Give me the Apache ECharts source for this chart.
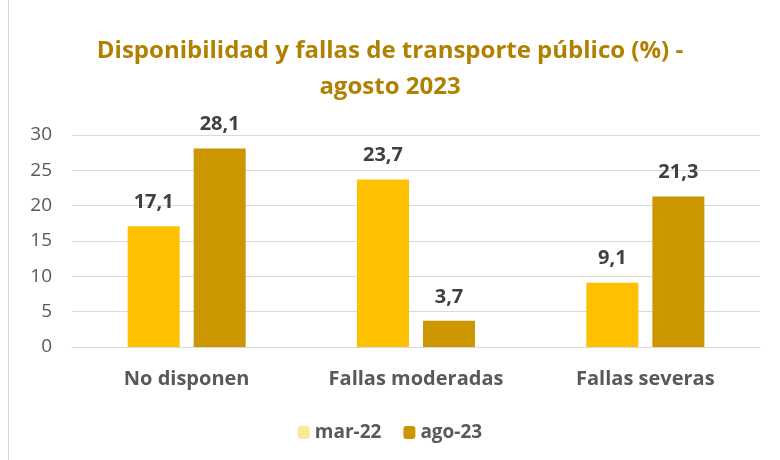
<!DOCTYPE html>
<html>
<head>
<meta charset="utf-8">
<script src="https://cdn.jsdelivr.net/npm/echarts@6/dist/echarts.min.js"></script>
<style>
  html, body { margin: 0; padding: 0; background: #fff; }
  #chart { width: 780px; height: 460px; }
</style>
</head>
<body>
<div id="chart"></div>
<script>
const categories = ['No disponen', 'Fallas moderadas', 'Fallas severas'];
const mar22 = [17.1, 23.7, 9.1];
const ago23 = [28.1, 3.7, 21.3];
const yTicks = [0, 5, 10, 15, 20, 25, 30];

const FONT = '"Open Sans", "Noto Sans", sans-serif';

const chart = echarts.init(document.getElementById('chart'));

const labelStyle = {
    show: true,
    position: 'top',
    distance: 14,
    fontFamily: FONT,
    fontWeight: 'bold',
    fontSize: 20,
    color: '#404040',
    formatter: p => String(p.value).replace('.', ',')
};

chart.setOption({
    animation: false,
    title: {
        text: 'Disponibilidad y fallas de transporte público (%) -\nagosto 2023',
        left: 'center',
        top: 28,
        textStyle: {
            fontFamily: FONT,
            fontWeight: 'bold',
            fontSize: 24,
            color: '#B08000',
            lineHeight: 36
        }
    },
    legend: {
        bottom: 13,
        left: 'center',
        itemWidth: 12,
        itemHeight: 13,
        itemGap: 22,
        textStyle: { fontFamily: FONT, fontSize: 19, fontWeight: 'bold', color: '#595959' },
        data: [
            { name: 'mar-22', itemStyle: { color: '#FFE699' } },
            { name: 'ago-23', itemStyle: { color: '#CC9600' } }
        ]
    },
    grid: { left: 72, right: 20, top: 135, bottom: 113 },
    xAxis: {
        type: 'category',
        data: categories,
        axisLine: { lineStyle: { color: '#D9D9D9' } },
        axisTick: { show: false },
        axisLabel: {
            fontFamily: FONT, fontSize: 20, fontWeight: 'bold', color: '#595959', margin: 22
        }
    },
    yAxis: {
        type: 'value',
        min: yTicks[0],
        max: yTicks[yTicks.length - 1],
        interval: 5,
        axisLine: { show: false },
        axisTick: { show: false },
        splitLine: { lineStyle: { color: '#D9D9D9' } },
        axisLabel: { fontFamily: FONT, fontSize: 19, color: '#595959', margin: 20 }
    },
    series: [
        {
            name: 'mar-22', type: 'bar', data: mar22,
            barWidth: 52, barGap: '27%',
            itemStyle: { color: '#FFC000' },
            label: labelStyle
        },
        {
            name: 'ago-23', type: 'bar', data: ago23,
            barWidth: 52,
            itemStyle: { color: '#CC9600' },
            label: labelStyle
        }
    ],
    graphic: [{
        type: 'line',
        shape: { x1: 8.5, y1: 0, x2: 8.5, y2: 460 },
        style: { stroke: '#D9D9D9', lineWidth: 1 }
    }]
});
</script>
</body>
</html>
